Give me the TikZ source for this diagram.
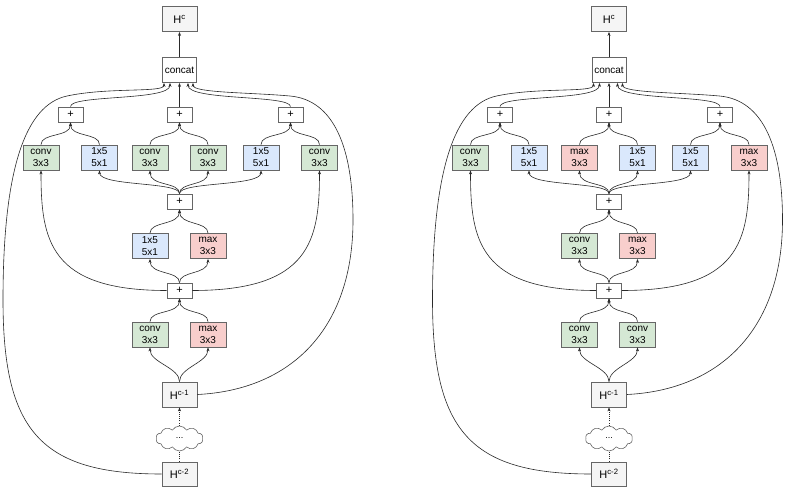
\documentclass[tikz,border=0pt]{standalone}
\usepackage{fontspec}
\setmainfont{Liberation Sans}
\usetikzlibrary{shapes.symbols,arrows.meta,calc}
\definecolor{gfill}{HTML}{D5E8D4}
\definecolor{bfill}{HTML}{DAE8FC}
\definecolor{rfill}{HTML}{F8CECC}
\definecolor{hfill}{HTML}{F5F5F5}
\definecolor{edgec}{HTML}{666666}
\definecolor{linec}{HTML}{2A2A2A}
\tikzset{
  box/.style={draw=edgec, line width=0.8pt, minimum width=36pt, minimum height=25pt,
    inner sep=0pt, align=center, font=\fontsize{10}{12}\selectfont},
  convbox/.style={box, fill=gfill, node contents={conv\\3x3}},
  sepbox/.style={box, fill=bfill, node contents={1x5\\5x1}},
  maxbox/.style={box, fill=rfill, node contents={max\\3x3}},
  hbox/.style={box, fill=hfill, minimum width=35pt, font=\fontsize{11}{13}\selectfont},
  catbox/.style={box, fill=white, minimum width=34pt},
  plusbox/.style={draw=edgec, line width=0.8pt, fill=white, minimum width=25pt,
    minimum height=15pt, inner sep=0pt, font=\fontsize{11}{11}\selectfont},
  cloudbox/.style={cloud, cloud puffs=10, cloud puff arc=120, aspect=1.9, draw=edgec,
    line width=0.6pt, fill=white, minimum width=47pt, minimum height=25pt, inner sep=0pt,
    font=\fontsize{9}{9}\selectfont},
  conn/.style={draw=linec, line width=0.6pt, -{Stealth[length=4pt,width=3pt]}},
  plainconn/.style={draw=linec, line width=0.6pt},
  dotline/.style={line width=0.5pt, dash pattern=on 1pt off 1.2pt},
}
\newcommand\netbody{%
  \node[hbox] (hc) at (179.5,19) {H\textsuperscript{c}};
  \node[catbox] (cat) at (179.5,70) {concat};
  \node[plusbox] (pa) at (70.5,114.5) {+};
  \node[plusbox] (pb) at (179.5,114.5) {+};
  \node[plusbox] (pc) at (290.5,114.5) {+};
  \node (n1) at (41,157.5) [ta];
  \node (n2) at (99.5,157.5) [tb];
  \node (n3) at (150,157.5) [tc];
  \node (n4) at (208,157.5) [td];
  \node (n5) at (261,157.5) [te];
  \node (n6) at (319.5,157.5) [tf];
  \node[plusbox] (pm) at (179.5,201.5) {+};
  \node (m1) at (150,246) [ma];
  \node (m2) at (208,246) [mb];
  \node[plusbox] (pl) at (179.5,290.5) {+};
  \node (b1) at (150,334.5) [ba];
  \node (b2) at (208,334.5) [bb];
  \node[hbox] (h1) at (179.5,394.5) {H\textsuperscript{c-1}};
  \node[cloudbox] (cl) at (179.5,438.5) {...};
  \node[hbox, minimum height=24pt] (h2) at (179.5,474) {H\textsuperscript{c-2}};
  \coordinate (c1) at ($(cat.south)+(-15.5,0)$);
  \coordinate (c2) at ($(cat.south)+(-9.5,0)$);
  \coordinate (c4) at ($(cat.south)+(8.5,0)$);
  \coordinate (c5) at ($(cat.south)+(13.5,0)$);
  % top
  \draw[conn] (cat.north) -- (hc.south);
  \draw[conn] (pb.north) -- (cat.south);
  \draw[conn] (pa.north) .. controls ($(pa.north)+(0,-12)$) and ($(c2)+(0,18)$) .. (c2);
  \draw[conn] (pc.north) .. controls ($(pc.north)+(0,-12)$) and ($(c4)+(0,18)$) .. (c4);
  % into the three plus boxes
  \foreach \s/\t in {n1/pa,n2/pa,n3/pb,n4/pb,n5/pc,n6/pc}{
    \draw[conn] (\s.north) .. controls ($(\s.north)+(0,-12)$) and ($(\t.south)+(0,15)$) .. (\t.south);
  }
  % fan out of middle plus
  \foreach \t in {n2,n3,n4,n5}{
    \draw[conn] (pm.north) .. controls ($(pm.north)+(0,-12)$) and ($(\t.south)+(0,16)$) .. (\t.south);
  }
  \foreach \s in {m1,m2}{
    \draw[conn] (\s.north) .. controls ($(\s.north)+(0,-12)$) and ($(pm.south)+(0,16)$) .. (pm.south);
    \draw[conn] (pl.north) .. controls ($(pl.north)+(0,-12)$) and ($(\s.south)+(0,16)$) .. (\s.south);
  }
  \foreach \s in {b1,b2}{
    \draw[conn] (\s.north) .. controls ($(\s.north)+(0,-12)$) and ($(pl.south)+(0,16)$) .. (pl.south);
    \draw[conn] (h1.north) .. controls ($(h1.north)+(0,-14)$) and ($(\s.south)+(0,15)$) .. (\s.south);
  }
  % lower plus to outer conv boxes
  \draw[conn] (pl.west) .. controls ($(pl.west)+(-117,0)$) and ($(n1.south)+(0,70)$) .. (n1.south);
  \draw[conn] (pl.east) .. controls ($(pl.east)+(118,0)$) and ($(n6.south)+(0,70)$) .. (n6.south);
  % dotted chain
  \draw[conn, dotline] (cl.north) -- (h1.south);
  \draw[plainconn, dotline] (h2.north) -- (cl.south);
  % long skip connections
  \draw[conn] (h2.west) .. controls (40,474) and (3,430) .. (3,300)
     .. controls (3,170) and (25,105) .. (67,96)
     .. controls (109,87) and ($(c1)+(0,10)$) .. (c1);
  \draw[conn] (h1.east) .. controls (290,390) and (353,330) .. (353,220)
     .. controls (353,150) and (335,100) .. (290,96)
     .. controls (250,92.4) and ($(c5)+(0,10)$) .. (c5);
}
\begin{document}
\begin{tikzpicture}[x=1pt,y=-1pt]
\useasboundingbox (0,0) rectangle (788,490);
\fill[white] (0,0) rectangle (788,490);
\begin{scope}[name prefix=L-,
  ta/.style=convbox, tb/.style=sepbox, tc/.style=convbox, td/.style=convbox,
  te/.style=sepbox, tf/.style=convbox, ma/.style=sepbox, mb/.style=maxbox,
  ba/.style=convbox, bb/.style=maxbox]
\netbody
\end{scope}
\begin{scope}[shift={(429.5,0)}, name prefix=R-,
  ta/.style=convbox, tb/.style=sepbox, tc/.style=maxbox, td/.style=sepbox,
  te/.style=sepbox, tf/.style=maxbox, ma/.style=convbox, mb/.style=maxbox,
  ba/.style=convbox, bb/.style=convbox]
\netbody
\end{scope}
\end{tikzpicture}
\end{document}
